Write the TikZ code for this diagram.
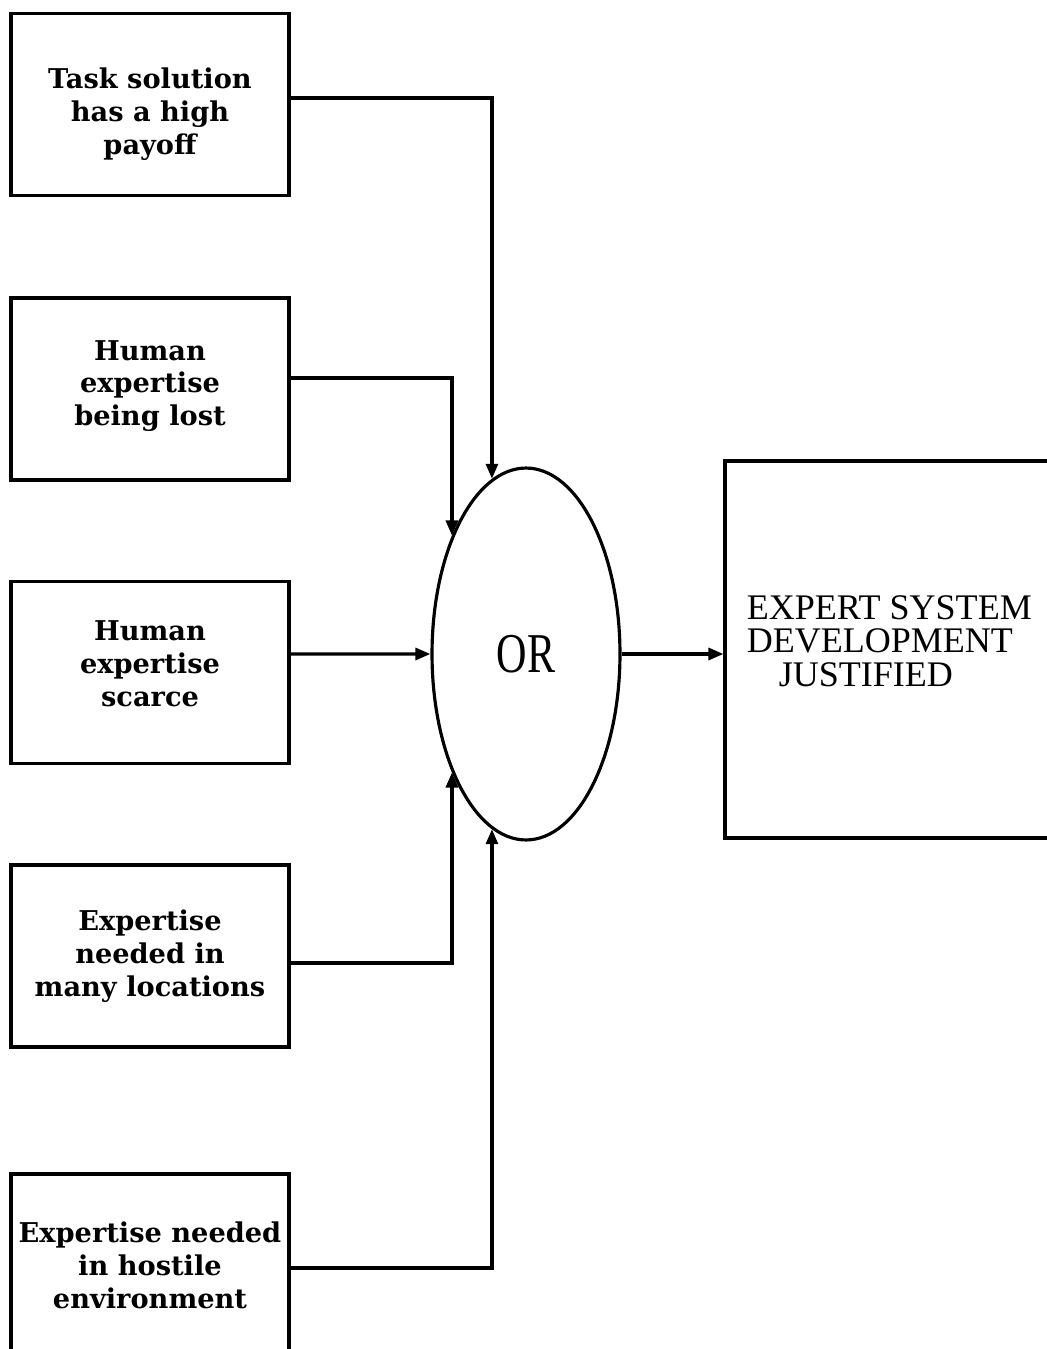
\documentclass[tikz,border=0pt]{standalone}
\usepackage{fontspec}
\usetikzlibrary{arrows.meta,shapes.geometric}
\newfontfamily\boxfont{DejaVu Serif}
\newfontfamily\capfont{Liberation Serif}
\newfontfamily\orfont[FakeStretch=0.75]{Liberation Serif}

\begin{document}
\begin{tikzpicture}[x=0.02cm,y=-0.02cm,
  cause/.style={draw, line width=1.8pt, minimum width=5.56cm, minimum height=3.64cm},
  causetext/.style={align=center, inner sep=0pt, font=\boxfont\bfseries\fontsize{15.5}{18.7}\selectfont},
  conn/.style={line width=1.8pt, -{Triangle[length=0.3cm,width=0.24cm]}}]

   \useasboundingbox (0,0) rectangle (1047,1349);

   % the five causes on the left
   \node[cause] (payoff) at (150,104.5) {};
   \node[cause] (lost) at (150,389) {};
   \node[cause] (scarce) at (150,672.5) {};
   \node[cause] (locations) at (150,956) {};
   \node[cause] (hostile) at (150,1265) {};

   \node[causetext] (payofftext) at ([yshift=-0.2cm]payoff.center) {Task solution\\has a high\\payoff};
   \node[causetext] (losttext) at ([yshift=0.06cm]lost.center) {Human\\expertise\\being lost};
   \node[causetext] (scarcetext) at ([yshift=0.17cm]scarce.center) {Human\\expertise\\scarce};
   \node[causetext] (locationstext) at (locations.center) {Expertise\\needed in\\many locations};
   \node[causetext] (hostiletext) at (hostile.center) {Expertise needed\\in hostile\\environment};

   % the gate
   \node[draw, ellipse, line width=1.8pt, minimum width=3.76cm, minimum height=7.44cm,
     font=\orfont\fontsize{32}{32}\selectfont] (orgate) at (526,654) {OR};

   % the result
   \node[draw, line width=1.8pt, minimum width=6.8cm, minimum height=7.54cm] (result) at (895,649.5) {};
   \node[anchor=north west, inner sep=0pt, align=left,
     font=\capfont\fontsize{20.5}{18.9}\selectfont] (resulttext)
     at ([xshift=0.46cm,yshift=-2.72cm]result.north west)
     {EXPERT SYSTEM\\DEVELOPMENT\\\hspace*{0.64cm}JUSTIFIED};

   \draw[conn] ([yshift=0.13cm]payoff.east) -| (orgate.101);
   \draw[conn] ([yshift=0.22cm]lost.east) -| (orgate.122);
   \draw[conn] ([yshift=0.37cm]scarce.east) -- (orgate.west);
   \draw[conn] ([yshift=-0.14cm]locations.east) -| (orgate.238);
   \draw[conn] ([yshift=-0.06cm]hostile.east) -| (orgate.259);
   \draw[conn] (orgate.east) -- (orgate.east -| result.west);
  \end{tikzpicture}
\end{document}
